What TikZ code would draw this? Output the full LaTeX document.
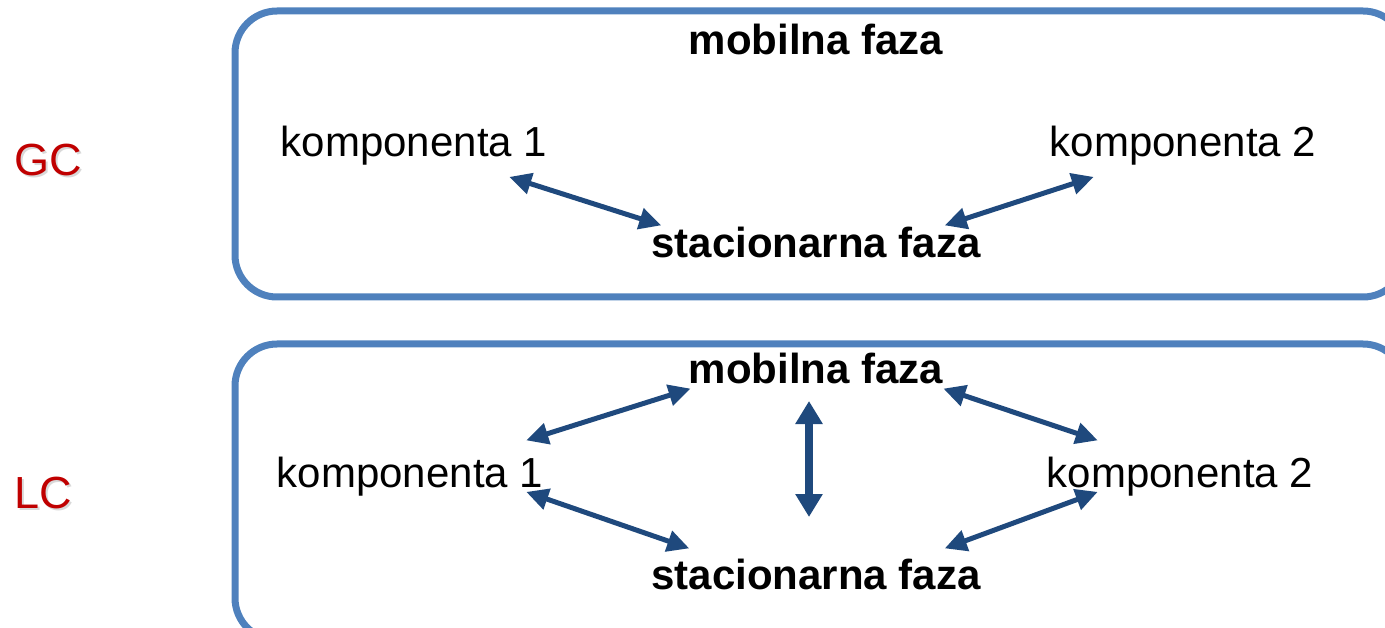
\documentclass[tikz,border=0pt]{standalone}
\usepackage{fontspec}
\setmainfont{Liberation Sans}
\usetikzlibrary{arrows.meta,calc}
\definecolor{framecol}{HTML}{4F81BD}
\definecolor{arrowcol}{HTML}{1F497D}
\definecolor{labelred}{HTML}{C00000}
\tikzset{
  panel/.style={draw=framecol,line width=7pt,rounded corners=42pt},
  plain/.style={inner sep=0pt,anchor=base,font=\fontsize{42}{50}\selectfont},
  phase/.style={inner sep=0pt,anchor=base,font=\fontsize{42}{50}\selectfont\bfseries},
  method/.style={inner sep=0pt,anchor=base,text=labelred,font=\fontsize{45}{54}\selectfont},
  shade/.style={inner sep=0pt,anchor=base,text=black!15,font=\fontsize{45}{54}\selectfont},
  link/.style={draw=arrowcol,line width=5pt,
    {Triangle[length=22pt,width=21pt]}-{Triangle[length=22pt,width=21pt]}},
  biglink/.style={draw=arrowcol,line width=8pt,
    {Triangle[length=23pt,width=26pt]}-{Triangle[length=23pt,width=26pt]}}
}
\begin{document}
\begin{tikzpicture}[x=1pt,y=-1pt]
\useasboundingbox (0,0) rectangle (1385,628);
\begin{scope}
\clip (0,0) rectangle (1385,628);
% frames of the two methods
\draw[panel] (235,11) rectangle (1405,297);
\draw[panel] (235,344) rectangle (1405,640);
\end{scope}

% method labels with a soft drop shadow
\node[shade] at (50,178) {GC};
\node[method] (gc) at (48,176) {GC};
\node[shade] at (45,510) {LC};
\node[method] (lc) at (43,508) {LC};

% gas chromatography
\node[phase] (gm) at (816,55) {mobilna faza};
\node[plain] (gk1) at (414,157) {komponenta 1};
\node[plain] (gk2) at (1183,157) {komponenta 2};
\node[phase] (gs) at (816,258) {stacionarna faza};

\coordinate (ga1) at ($(gk1.south east)+(-38,11)$);
\coordinate (ga2) at ($(gs.north west)+(10,-2)$);
\coordinate (ga3) at ($(gk2.south west)+(44,11)$);
\coordinate (ga4) at ($(gs.north east)+(-36,-2)$);
\draw[link] (ga1) -- (ga2);
\draw[link] (ga3) -- (ga4);

% liquid chromatography
\node[phase] (lm) at (816,384) {mobilna faza};
\node[plain] (lk1) at (410,487) {komponenta 1};
\node[plain] (lk2) at (1180,487) {komponenta 2};
\node[phase] (ls) at (816,589) {stacionarna faza};

\coordinate (la1) at ($(lm.south west)+(2,4)$);
\coordinate (la2) at ($(lk1.north east)+(-17,-16)$);
\coordinate (la3) at ($(lm.south east)+(0,4)$);
\coordinate (la4) at ($(lk2.north west)+(51,-16)$);
\coordinate (la5) at ($(lk1.south east)+(-17,-4)$);
\coordinate (la6) at ($(ls.north west)+(38,-10)$);
\coordinate (la7) at ($(lk2.south west)+(51,-4)$);
\coordinate (la8) at ($(ls.north east)+(-36,-10)$);
\coordinate (lv1) at (809,401);
\coordinate (lv2) at (809,517);
\draw[link] (la1) -- (la2);
\draw[link] (la3) -- (la4);
\draw[link] (la5) -- (la6);
\draw[link] (la7) -- (la8);
\draw[biglink] (lv1) -- (lv2);
\end{tikzpicture}
\end{document}
